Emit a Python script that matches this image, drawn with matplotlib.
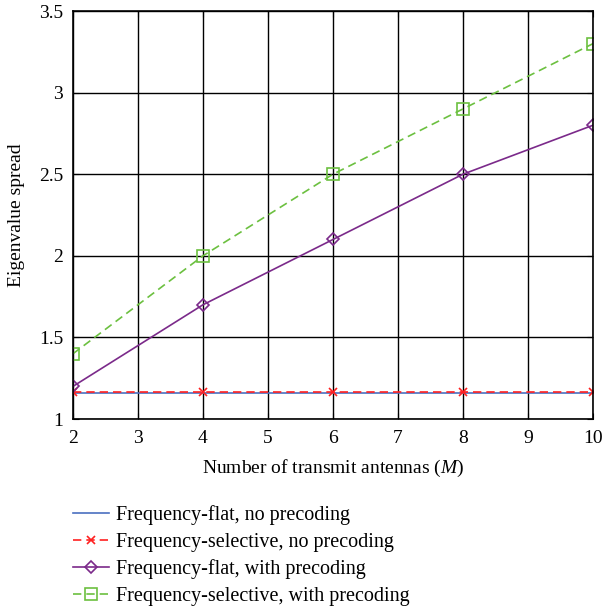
import matplotlib
matplotlib.use("Agg")
import matplotlib.pyplot as plt

M = [2, 4, 6, 8, 10]
flat_noprec = [1.157, 1.157, 1.157, 1.157, 1.157]
sel_noprec = [1.167, 1.167, 1.167, 1.167, 1.167]
flat_prec = [1.2, 1.7, 2.1, 2.5, 2.8]
sel_prec = [1.4, 2.0, 2.5, 2.9, 3.3]

plt.rcParams['font.family'] = ['Liberation Serif']
plt.rcParams['font.size'] = 14
plt.rcParams['mathtext.fontset'] = 'custom'
plt.rcParams['mathtext.rm'] = 'Liberation Serif'
plt.rcParams['mathtext.it'] = 'Liberation Serif:italic'

fig = plt.figure(figsize=(6.03, 6.07), dpi=100)
ax = fig.add_axes([73/603, 1-419/607, 520/603, 408/607])

l1, = ax.plot(M, flat_noprec, color='#4a6fc0', lw=1.2, label='Frequency-flat, no precoding')
l2, = ax.plot(M, sel_noprec, color='#ff2020', lw=1.2, ls=(0, (5, 3)), marker='x', ms=6, mew=1.2,
              label='Frequency-selective, no precoding')
l3, = ax.plot(M, flat_prec, color='#7b2a8a', lw=1.2, marker='D', ms=6.5, mfc='none', mew=1.2,
              label='Frequency-flat, with precoding')
l4, = ax.plot(M, sel_prec, color='#6cc040', lw=1.2, ls=(0, (5, 3)), marker='s', ms=8, mfc='none', mew=1.2,
              label='Frequency-selective, with precoding')

ax.set_xlim(2, 10)
ax.set_ylim(1, 3.5)
ax.set_xticks(range(2, 11))
ax.set_yticks([1, 1.5, 2, 2.5, 3, 3.5])
ax.set_yticklabels(['1', '1.5', '2', '2.5', '3', '3.5'])
ax.grid(True, color='black', lw=1.0)
ax.set_axisbelow(True)
ax.tick_params(direction='in', length=4, top=True, right=True, labelsize=14)
ax.tick_params(axis='x', pad=8)
ax.tick_params(axis='y', pad=7)
for s in ax.spines.values():
    s.set_linewidth(1.2)
ax.set_xlabel('Number of transmit antennas ($M$)', fontsize=14, labelpad=8)
ax.set_ylabel('Eigenvalue spread', fontsize=14, labelpad=10)

fig.legend(handles=[l1, l2, l3, l4], loc='upper left', bbox_to_anchor=(73/603, 1-505/607),
           frameon=False, fontsize=14.5, handlelength=1.8, handletextpad=0.35, labelspacing=0.38,
           borderaxespad=0, borderpad=0)

fig.savefig('out.png', dpi=100)
